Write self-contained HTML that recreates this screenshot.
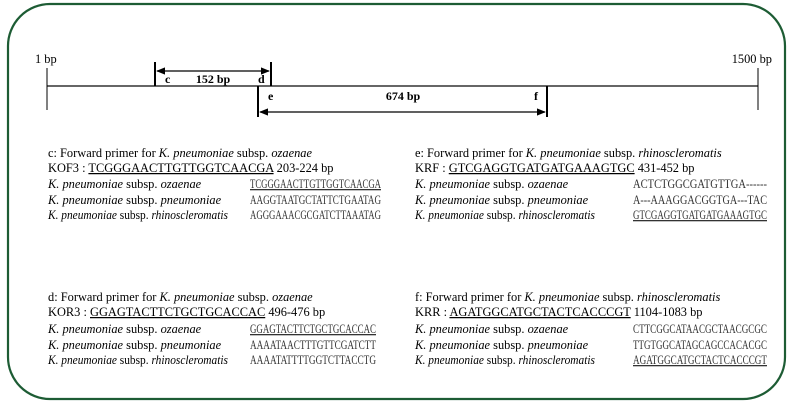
<!DOCTYPE html>
<html><head><meta charset="utf-8"><style>
html,body{margin:0;padding:0;background:#fff;}
svg{display:block;}
text{font-family:"Liberation Serif",serif;fill:#000;}
.h{font-size:12.4px;}
.k{font-size:12.4px;}
.s{font-size:13px;fill:#333;}
.u{text-decoration:underline;}
</style></head><body>
<svg width="794" height="408" viewBox="0 0 794 408" xmlns="http://www.w3.org/2000/svg">
<defs>
<marker id="a" viewBox="0 0 10 10" refX="9" refY="5" markerWidth="7" markerHeight="7" orient="auto-start-reverse"><path d="M0,1 L10,5 L0,9 z" fill="#000"/></marker>
</defs>
<rect x="8" y="4" width="777" height="395" rx="42" ry="42" fill="none" stroke="#1d5c34" stroke-width="2.2"/>
<line x1="47" y1="86" x2="758" y2="86" stroke="#333" stroke-width="1.5"/>
<line x1="47" y1="68" x2="47" y2="110" stroke="#000" stroke-width="1"/>
<line x1="758" y1="68" x2="758" y2="110" stroke="#000" stroke-width="1"/>
<text x="35" y="63" class="h">1 bp</text>
<text x="772" y="63" class="h" text-anchor="end">1500 bp</text>
<line x1="155" y1="62" x2="155" y2="86" stroke="#000" stroke-width="2"/>
<line x1="271" y1="62" x2="271" y2="86" stroke="#000" stroke-width="2"/>
<line x1="157" y1="71" x2="269" y2="71" stroke="#000" stroke-width="1.3" marker-start="url(#a)" marker-end="url(#a)"/>
<text x="165" y="83" font-size="12" font-weight="bold">c</text>
<text x="213" y="83" font-size="12" font-weight="bold" text-anchor="middle">152 bp</text>
<text x="258" y="83" font-size="12" font-weight="bold">d</text>
<line x1="258" y1="86" x2="258" y2="117" stroke="#000" stroke-width="2"/>
<line x1="547" y1="86" x2="547" y2="117" stroke="#000" stroke-width="2"/>
<line x1="260" y1="112" x2="545" y2="112" stroke="#000" stroke-width="1.3" marker-start="url(#a)" marker-end="url(#a)"/>
<text x="268" y="100" font-size="12" font-weight="bold">e</text>
<text x="403" y="100" font-size="12" font-weight="bold" text-anchor="middle">674 bp</text>
<text x="534" y="100" font-size="12" font-weight="bold">f</text>

<text x="48" y="157" class="h">c: Forward primer for <tspan font-style="italic">K. pneumoniae</tspan> subsp. <tspan font-style="italic">ozaenae</tspan></text>
<text x="48" y="172" class="h" font-size="13.5">KOF3 : <tspan class="u">TCGGGAACTTGTTGGTCAACGA</tspan> 203-224 bp</text>
<text x="48" y="188" class="k"><tspan font-style="italic">K. pneumoniae</tspan> subsp. <tspan font-style="italic">ozaenae</tspan></text>
<text x="48" y="204" class="k"><tspan font-style="italic">K. pneumoniae</tspan> subsp. <tspan font-style="italic">pneumoniae</tspan></text>
<text x="48" y="219" class="k" textLength="180" lengthAdjust="spacingAndGlyphs"><tspan font-style="italic">K. pneumoniae</tspan> subsp. <tspan font-style="italic">rhinoscleromatis</tspan></text>
<text x="250" y="188" class="s u" textLength="131" lengthAdjust="spacingAndGlyphs">TCGGGAACTTGTTGGTCAACGA</text>
<text x="250" y="204" class="s" textLength="131" lengthAdjust="spacingAndGlyphs">AAGGTAATGCTATTCTGAATAG</text>
<text x="250" y="219" class="s" textLength="131" lengthAdjust="spacingAndGlyphs">AGGGAAACGCGATCTTAAATAG</text>

<text x="415" y="157" class="h">e: Forward primer for <tspan font-style="italic">K. pneumoniae</tspan> subsp. <tspan font-style="italic">rhinoscleromatis</tspan></text>
<text x="415" y="172" class="h" font-size="13.5">KRF : <tspan class="u">GTCGAGGTGATGATGAAAGTGC</tspan> 431-452 bp</text>
<text x="415" y="188" class="k"><tspan font-style="italic">K. pneumoniae</tspan> subsp. <tspan font-style="italic">ozaenae</tspan></text>
<text x="415" y="204" class="k"><tspan font-style="italic">K. pneumoniae</tspan> subsp. <tspan font-style="italic">pneumoniae</tspan></text>
<text x="415" y="219" class="k" textLength="180" lengthAdjust="spacingAndGlyphs"><tspan font-style="italic">K. pneumoniae</tspan> subsp. <tspan font-style="italic">rhinoscleromatis</tspan></text>
<text x="633" y="188" class="s" textLength="134" lengthAdjust="spacingAndGlyphs">ACTCTGGCGATGTTGA‑‑‑‑‑‑</text>
<text x="633" y="204" class="s" textLength="134" lengthAdjust="spacingAndGlyphs">A‑‑‑AAAGGACGGTGA‑‑‑TAC</text>
<text x="633" y="219" class="s u" textLength="134" lengthAdjust="spacingAndGlyphs">GTCGAGGTGATGATGAAAGTGC</text>

<text x="48" y="301" class="h">d: Forward primer for <tspan font-style="italic">K. pneumoniae</tspan> subsp. <tspan font-style="italic">ozaenae</tspan></text>
<text x="48" y="316" class="h" font-size="13.5">KOR3 : <tspan class="u">GGAGTACTTCTGCTGCACCAC</tspan> 496-476 bp</text>
<text x="48" y="333" class="k"><tspan font-style="italic">K. pneumoniae</tspan> subsp. <tspan font-style="italic">ozaenae</tspan></text>
<text x="48" y="349" class="k"><tspan font-style="italic">K. pneumoniae</tspan> subsp. <tspan font-style="italic">pneumoniae</tspan></text>
<text x="48" y="364" class="k" textLength="180" lengthAdjust="spacingAndGlyphs"><tspan font-style="italic">K. pneumoniae</tspan> subsp. <tspan font-style="italic">rhinoscleromatis</tspan></text>
<text x="250" y="333" class="s u" textLength="126" lengthAdjust="spacingAndGlyphs">GGAGTACTTCTGCTGCACCAC</text>
<text x="250" y="349" class="s" textLength="126" lengthAdjust="spacingAndGlyphs">AAAATAACTTTGTTCGATCTT</text>
<text x="250" y="364" class="s" textLength="126" lengthAdjust="spacingAndGlyphs">AAAATATTTTGGTCTTACCTG</text>

<text x="415" y="301" class="h">f: Forward primer for <tspan font-style="italic">K. pneumoniae</tspan> subsp. <tspan font-style="italic">rhinoscleromatis</tspan></text>
<text x="415" y="316" class="h" font-size="13.5">KRR : <tspan class="u">AGATGGCATGCTACTCACCCGT</tspan> 1104-1083 bp</text>
<text x="415" y="333" class="k"><tspan font-style="italic">K. pneumoniae</tspan> subsp. <tspan font-style="italic">ozaenae</tspan></text>
<text x="415" y="349" class="k"><tspan font-style="italic">K. pneumoniae</tspan> subsp. <tspan font-style="italic">pneumoniae</tspan></text>
<text x="415" y="364" class="k" textLength="180" lengthAdjust="spacingAndGlyphs"><tspan font-style="italic">K. pneumoniae</tspan> subsp. <tspan font-style="italic">rhinoscleromatis</tspan></text>
<text x="633" y="333" class="s" textLength="134" lengthAdjust="spacingAndGlyphs">CTTCGGCATAACGCTAACGCGC</text>
<text x="633" y="349" class="s" textLength="134" lengthAdjust="spacingAndGlyphs">TTGTGGCATAGCAGCCACACGC</text>
<text x="633" y="364" class="s u" textLength="134" lengthAdjust="spacingAndGlyphs">AGATGGCATGCTACTCACCCGT</text>
</svg>
</body></html>
